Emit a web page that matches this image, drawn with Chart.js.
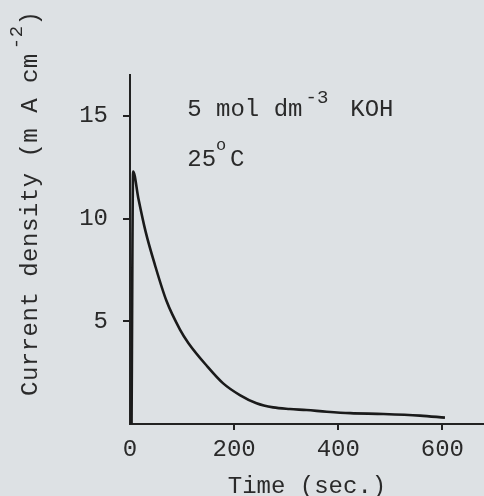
<!DOCTYPE html>
<html><head><meta charset="utf-8">
<script src="https://cdn.jsdelivr.net/npm/chart.js@4"></script>
<style>
html,body{margin:0;padding:0;background:#dde1e4;overflow:hidden;}
#wrap{position:relative;width:484px;height:496px;}
canvas{display:block;}
</style>
</head><body>
<div id="wrap"><canvas id="c" width="484" height="496" style="width:484px;height:496px"></canvas></div>
<script>
// ---- data ----
const timeSec        = [3, 6, 16, 30, 48, 70, 96, 112, 147, 179, 211, 243, 275, 307, 339, 378, 423, 487, 557, 605];
const currentDensity = [0, 12.3, 11.0, 9.37, 7.74, 6.0, 4.6, 3.95, 2.85, 1.98, 1.41, 1.01, 0.81, 0.73, 0.68, 0.60, 0.53, 0.49, 0.41, 0.31];
const xTicks = [0, 200, 400, 600];
const yTicks = [5, 10, 15];
const xTitle = 'Time (sec.)';
const yTitleParts = ['Current density (m A cm', '-2', ')'];
const note1Parts = ['5 mol dm', '-3', 'KOH'];
const note2Parts = ['25', 'o', 'C'];

const FAMILY = '"Liberation Mono", "Courier New", monospace';
const INK = '#2a2a2a';

const textPlugin = {
  id: 'texts',
  afterDraw(chart) {
    const {ctx, scales: {x, y}} = chart;
    ctx.save();
    ctx.fillStyle = INK;
    ctx.textBaseline = 'alphabetic';
    ctx.textAlign = 'left';
    const main = '24px ' + FAMILY;
    // note 1
    let px = x.getPixelForValue(110), py = y.getPixelForValue(15);
    ctx.font = main; ctx.fillText(note1Parts[0], px, py);
    let cx = px + ctx.measureText(note1Parts[0]).width + 3;
    ctx.font = '19px ' + FAMILY; ctx.fillText(note1Parts[1], cx, py - 13);
    cx += ctx.measureText(note1Parts[1]).width;
    ctx.font = main; ctx.fillText(note1Parts[2], cx + 22, py);
    // note 2
    py = y.getPixelForValue(12.55);
    ctx.font = main; ctx.fillText(note2Parts[0], px, py);
    cx = px + ctx.measureText(note2Parts[0]).width;
    ctx.font = '17px ' + FAMILY; ctx.fillText(note2Parts[1], cx, py - 16);
    ctx.font = main; ctx.fillText(note2Parts[2], cx + 14, py);
    // y title (rotated)
    ctx.translate(37, 396);
    ctx.rotate(-Math.PI / 2);
    ctx.letterSpacing = '0.5px';
    ctx.font = main; ctx.fillText(yTitleParts[0], 0, 0);
    cx = ctx.measureText(yTitleParts[0]).width + 4;
    ctx.font = '19px ' + FAMILY; ctx.fillText(yTitleParts[1], cx, -15);
    cx += ctx.measureText(yTitleParts[1]).width;
    ctx.font = main; ctx.fillText(yTitleParts[2], cx, 0);
    ctx.letterSpacing = '0px';
    ctx.restore();
  }
};

new Chart(document.getElementById('c'), {
  type: 'scatter',
  data: {
    datasets: [{
      data: timeSec.map((t, i) => ({x: t, y: currentDensity[i]})),
      showLine: true,
      borderColor: '#1a1a1a',
      borderWidth: 2.6,
      pointRadius: 0,
      cubicInterpolationMode: 'monotone',
      fill: false
    }]
  },
  options: {
    responsive: false,
    animation: false,
    devicePixelRatio: 1,
    layout: {padding: {top: 75, left: 0, right: 0, bottom: 0}},
    plugins: {legend: {display: false}, tooltip: {enabled: false}},
    scales: {
      x: {
        type: 'linear', min: 0, max: 680,
        afterBuildTicks: s => { s.ticks = xTicks.map(v => ({value: v})); },
        afterFit: s => { s.height = 72; },
        ticks: {font: {family: FAMILY, size: 24}, color: INK, padding: 5, maxRotation: 0},
        grid: {drawOnChartArea: false, drawTicks: true, tickLength: 6, lineWidth: 2,
               color: c => (c.tick && c.tick.value === 0) ? 'rgba(0,0,0,0)' : '#222'},
        border: {color: '#222', width: 2},
        title: {display: true, text: xTitle, color: INK, font: {family: FAMILY, size: 24, lineHeight: 0.8}, padding: {top: 0, bottom: 0}}
      },
      y: {
        type: 'linear', min: 0, max: 17,
        afterBuildTicks: s => { s.ticks = yTicks.map(v => ({value: v})); },
        afterFit: s => { s.width = 130; },
        ticks: {font: {family: FAMILY, size: 24}, color: INK, padding: 15},
        grid: {drawOnChartArea: false, drawTicks: true, tickLength: 7, lineWidth: 2, color: '#222'},
        border: {color: '#222', width: 2}
      }
    }
  },
  plugins: [textPlugin]
});
</script>
</body></html>
